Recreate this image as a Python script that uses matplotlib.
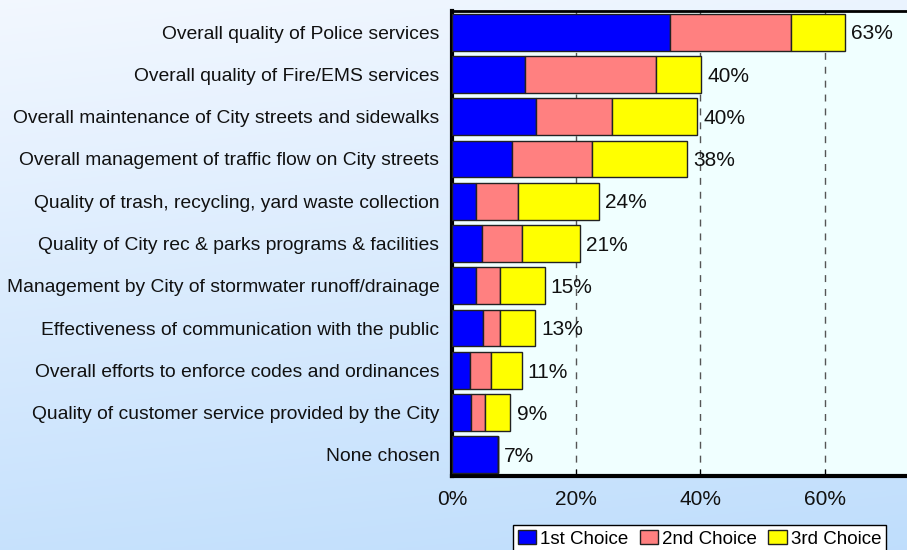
import matplotlib.pyplot as plt
import numpy as np

plt.rcParams['font.family'] = ['Liberation Sans', 'DejaVu Sans']

categories = [
    "Overall quality of Police services",
    "Overall quality of Fire/EMS services",
    "Overall maintenance of City streets and sidewalks",
    "Overall management of traffic flow on City streets",
    "Quality of trash, recycling, yard waste collection",
    "Quality of City rec & parks programs & facilities",
    "Management by City of stormwater runoff/drainage",
    "Effectiveness of communication with the public",
    "Overall efforts to enforce codes and ordinances",
    "Quality of customer service provided by the City",
    "None chosen",
]
first_choice = [35.1, 11.7, 13.5, 9.6, 3.9, 4.9, 3.8, 5.0, 2.9, 3.0, 7.4]
second_choice = [19.4, 21.1, 12.2, 12.9, 6.7, 6.4, 4.0, 2.8, 3.4, 2.3, 0.0]
third_choice = [8.7, 7.3, 13.8, 15.4, 13.1, 9.3, 7.1, 5.6, 4.9, 4.1, 0.0]
total_labels = ["63%", "40%", "40%", "38%", "24%", "21%", "15%", "13%", "11%", "9%", "7%"]
series_names = ["1st Choice", "2nd Choice", "3rd Choice"]
colors = ["#0000FF", "#FF8080", "#FFFF00"]

fig = plt.figure(figsize=(9.07, 5.5), dpi=100)

# gradient background
bg = fig.add_axes([0, 0, 1, 1], zorder=-10)
yy = np.linspace(0, 1, 200)[:, None]
xx = np.linspace(0, 1, 300)[None, :]
t = np.clip(yy * 0.85 + xx * 0.15, 0, 1)
top = np.array([0.95, 0.97, 1.0])
bot = np.array([0.75, 0.87, 0.99])
img = top[None, None, :] * (1 - t[..., None]) + bot[None, None, :] * t[..., None]
bg.imshow(img, aspect='auto', extent=[0, 1, 0, 1], origin='upper')
bg.axis('off')

ax = fig.add_axes([0.4983, 0.1345, 0.548, 0.8455])
ax.set_facecolor("#F0FFFF")

y = np.arange(len(categories))
left = np.zeros(len(categories))
bars = []
for vals, c, name in zip([first_choice, second_choice, third_choice], colors, series_names):
    vals = np.array(vals)
    b = ax.barh(y, vals, left=left, height=0.87, color=c, edgecolor="#222222",
                linewidth=1, label=name, zorder=3)
    bars.append(b)
    left = left + vals

for yi, tot, lab in zip(y, left, total_labels):
    ax.text(tot + 1.0, yi + 0.04, lab, va='center', ha='left', fontsize=15, color="#111111", zorder=4)

ax.set_xlim(0, 80)
ax.set_ylim(len(categories) - 0.5, -0.5)
ax.set_yticks(y)
ax.set_yticklabels(categories, fontsize=13.9, color="#111111")
ax.set_xticks([0, 20, 40, 60])
ax.set_xticklabels(["0%", "20%", "40%", "60%"], fontsize=15, color="#111111")
ax.tick_params(axis='y', length=0, pad=9)
ax.tick_params(axis='x', direction='in', length=5, pad=10)
for xg in [20, 40, 60]:
    ax.axvline(xg, color="#555555", linestyle=(0, (5, 5)), linewidth=1, zorder=1)

ax.spines['left'].set_linewidth(3)
ax.spines['bottom'].set_linewidth(3)
ax.spines['top'].set_linewidth(2)
ax.spines['right'].set_visible(False)

leg = fig.legend(handles=bars, loc='upper left', bbox_to_anchor=(0.5656, 0.045), ncol=3,
                 fontsize=13.5, frameon=True, fancybox=False, handlelength=1.0, handleheight=0.8,
                 handletextpad=0.2, columnspacing=0.6, borderpad=0.25, borderaxespad=0)
leg.get_frame().set_edgecolor("black")
leg.get_frame().set_linewidth(1)
leg.get_frame().set_facecolor("white")
leg.get_frame().set_alpha(1)

fig.savefig("out.png", dpi=100)
